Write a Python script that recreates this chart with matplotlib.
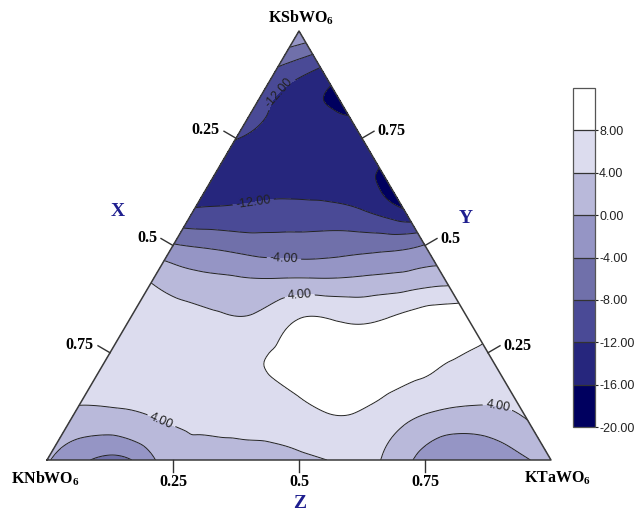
import numpy as np
import matplotlib
matplotlib.use("Agg")
import matplotlib.pyplot as plt
from matplotlib.tri import Triangulation, UniformTriRefiner, CubicTriInterpolator

plt.rcParams["font.family"] = "Liberation Sans"
plt.rcParams["mathtext.fontset"] = "custom"
plt.rcParams["mathtext.rm"] = "Liberation Serif:bold"
plt.rcParams["axes.unicode_minus"] = False
plt.rcParams["contour.negative_linestyle"] = "solid"

# values read on a 1/12 composition lattice; row k has KSbWO6 fraction k/12,
# entries run over KTaWO6 fraction 0, 1/12, ... (KNbWO6 makes up the rest)
row00 = [0.5, -3.9, -4.1, 2.6, 2.6, 2.8, 3.2, 4.4, 3.8, -1.5, -3.3, -1.5, 1.5]
row01 = [2.2, 1.8, 3.3, 4.4, 4.9, 5.4, 7.0, 7.0, 4.1, 1.6, 1.6, 3.8]
row02 = [5.2, 5.6, 5.8, 6.5, 7.3, 8.4, 9.3, 8.5, 7.2, 6.0, 5.5]
row03 = [5.5, 6.2, 6.8, 7.5, 8.3, 9.5, 9.5, 9.2, 8.6, 7.3]
row04 = [5.2, 5.5, 4.6, 4.5, 7.8, 7.4, 7.7, 9.5, 9.5]
row05 = [3.8, 1.5, 0.7, 0.6, 0.7, 1.0, 1.8, 2.9]
row06 = [-3.6, -4.8, -6.0, -6.3, -5.8, -5.3, -3.8]
row07 = [-11.7, -11.4, -10.6, -10.7, -12.0, -15.8]
row08 = [-13.0, -14.0, -14.5, -14.8, -16.5]
row09 = [-11.9, -13.2, -14.0, -14.5]
row10 = [-10.8, -14.2, -17.0]
row11 = [-8.0, -11.8]
row12 = [0.5]
rows = [row00, row01, row02, row03, row04, row05, row06,
        row07, row08, row09, row10, row11, row12]

levels = [-20, -16, -12, -8, -4, 0, 4, 8, 12]
band_colors = ["#00005f", "#26267d", "#4a4a96", "#7070aa",
               "#9595c5", "#b9b9da", "#dcdcee", "#ffffff"]
axis_ticks = [0.25, 0.5, 0.75]
tick_names = ["0.25", "0.5", "0.75"]
corner_names = ["KNbWO$_\\mathregular{6}$", "KTaWO$_\\mathregular{6}$", "KSbWO$_\\mathregular{6}$"]

H = np.sqrt(3) / 2
PX_X = 504.0   # triangle width in pixels
PX_Y = 429.0   # triangle height in pixels


def to_xy(z, y):
    # z: KTaWO6 fraction, y: KSbWO6 fraction
    return z + y / 2.0, y * H


def px(dx, dy):
    # pixel offset -> data offset
    return dx / PX_X, dy / PX_Y * H


n = len(rows) - 1
xs, ys, vs = [], [], []
for k, row in enumerate(rows):
    for i, v in enumerate(row):
        x, y = to_xy(i / n, k / n)
        xs.append(x)
        ys.append(y)
        vs.append(v)
xs, ys, vs = np.array(xs), np.array(ys), np.array(vs)

tri = Triangulation(xs, ys)
interp = CubicTriInterpolator(tri, vs, kind="min_E")
fine_tri, fine_v = UniformTriRefiner(tri).refine_field(vs, triinterpolator=interp, subdiv=4)
fine_v = np.clip(fine_v, -19.9, 11.9)

fig = plt.figure(figsize=(6.34, 5.11), dpi=100)
ax = fig.add_axes([47 / 634, 51 / 511, 504 / 634, 429 / 511])
ax.set_xlim(0, 1)
ax.set_ylim(0, H)
ax.axis("off")

cf = ax.tricontourf(fine_tri, fine_v, levels=levels, colors=band_colors)
cl = ax.tricontour(fine_tri, fine_v, levels=levels[1:-1], colors="#222222", linewidths=0.7)

label_spots = [(0.4620, 0.7400), (0.4087, 0.5249), (0.4702, 0.4078),
               (0.5020, 0.3230), (0.2302, 0.0868), (0.8929, 0.1009)]
ax.clabel(cl, fmt="%.2f", fontsize=9, manual=label_spots, inline=True, inline_spacing=3)

ax.plot([0, 1, 0.5, 0], [0, 0, H, 0], color="#3a3a3a", lw=1.1, clip_on=False)

serif = dict(family="Liberation Serif", weight="bold", fontsize=11.5)
pt = 0.72
for t, name in zip(axis_ticks, tick_names):
    # bottom edge (Z)
    x0, y0 = to_xy(t, 0)
    dx, dy = px(0, -12)
    ax.plot([x0, x0 + dx], [y0, y0 + dy], color="#333333", lw=1.0, clip_on=False)
    ax.annotate(name, (x0, y0), xytext=(0, -22 * pt), textcoords="offset points",
                ha="center", va="center", **serif)
    # left edge (X = KNbWO6 fraction)
    x0, y0 = to_xy(0, 1 - t)
    dx, dy = px(-12, 7)
    ax.plot([x0, x0 + dx], [y0, y0 + dy], color="#333333", lw=1.0, clip_on=False)
    ax.annotate(name, (x0, y0), xytext=(-16 * pt, 8 * pt), textcoords="offset points",
                ha="right", va="center", **serif)
    # right edge (Y = KSbWO6 fraction)
    x0, y0 = to_xy(1 - t, t)
    dx, dy = px(12, 7)
    ax.plot([x0, x0 + dx], [y0, y0 + dy], color="#333333", lw=1.0, clip_on=False)
    ax.annotate(name, (x0, y0), xytext=(15 * pt, 7 * pt), textcoords="offset points",
                ha="left", va="center", **serif)

corners = [to_xy(0, 0), to_xy(1, 0), to_xy(0, 1)]
corner_offsets = [(-2, -19), (6, -18), (2, 13)]
for (cx, cy), name, (ox, oy) in zip(corners, corner_names, corner_offsets):
    ax.annotate(name, (cx, cy), xytext=(ox * pt, oy * pt), textcoords="offset points",
                ha="center", va="center", **serif)

blue = "#1f1f8f"
axis_names = [("X", to_xy(0, 0.5), (-55, 34)),
              ("Y", to_xy(0.5, 0.5), (41, 27)),
              ("Z", to_xy(0.5, 0), (1, -43))]
for name, (cx, cy), (ox, oy) in axis_names:
    ax.annotate(name, (cx, cy), xytext=(ox * pt, oy * pt), textcoords="offset points",
                ha="center", va="center", color=blue, family="Liberation Serif",
                weight="bold", fontsize=14)

cax = fig.add_axes([573 / 634, 84 / 511, 22 / 634, 339 / 511])
cbar = fig.colorbar(cf, cax=cax, ticks=levels[:-1], format="%.2f", drawedges=True)
cbar.outline.set_edgecolor("#555555")
cbar.outline.set_linewidth(0.9)
cbar.dividers.set_color("#333333")
cbar.dividers.set_linewidth(0.9)
cax.tick_params(length=2.5, width=0.8, pad=0.5, labelsize=9, colors="#222222")

fig.savefig("out.png", dpi=100)
